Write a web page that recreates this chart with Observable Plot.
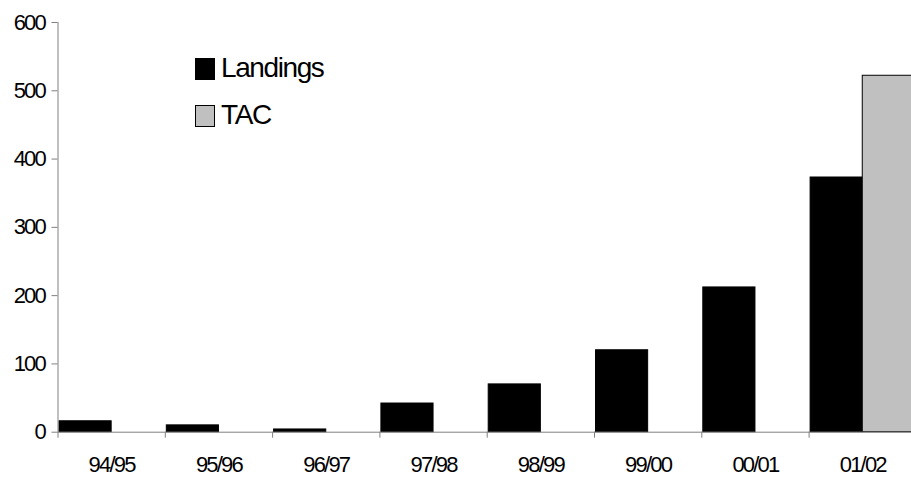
<!DOCTYPE html>
<html>
<head>
<meta charset="utf-8">
<script src="https://cdn.jsdelivr.net/npm/d3@7"></script>
<script src="https://cdn.jsdelivr.net/npm/@observablehq/plot@0.6"></script>
<style>
  html, body { margin: 0; padding: 0; background: #fff; overflow: hidden; }
  #wrap { position: relative; width: 911px; height: 479px; overflow: hidden; }
  #wrap svg text { font-family: "Liberation Sans", Arial, sans-serif; font-size: 22px; letter-spacing: -1.8px; }
  .lg-item { position: absolute; font-family: "Liberation Sans", Arial, sans-serif; font-size: 28px; line-height: 28px; letter-spacing: -1.4px; color: #000; white-space: nowrap; }
  .lg-sw { position: absolute; box-sizing: border-box; }
</style>
</head>
<body>
<div id="wrap"></div>
<script>
// ---- data ----
const seasons = ["94/95", "95/96", "96/97", "97/98", "98/99", "99/00", "00/01", "01/02"];
const landings = [16, 10, 4, 42, 70, 120, 212, 373];
const tac = [null, null, null, null, null, null, null, 522];
const seriesNames = ["Landings", "TAC"];
const seriesColors = ["#000000", "#c0c0c0"];
const yTicks = [0, 100, 200, 300, 400, 500, 600];

// ---- table built from the arrays ----
const rows = [];
seasons.forEach((s, i) => {
  rows.push({ season: s, i, series: "Landings", slot: 0, value: landings[i] });
  if (tac[i] != null) rows.push({ season: s, i, series: "TAC", slot: 1, value: tac[i] });
});

const edge = 0.014; // small gap at category edges
const chart = Plot.plot({
  width: 911,
  height: 479,
  marginLeft: 57.5,
  marginRight: -4.9,
  marginTop: 22,
  marginBottom: 47.3,
  style: { fontFamily: "'Liberation Sans', Arial, sans-serif", fontSize: "22px", color: "#000", background: "#fff" },
  x: { type: "linear", domain: [0, seasons.length], label: null },
  y: { domain: [0, 600], label: null },
  color: { domain: seriesNames, range: seriesColors },
  marks: [
    Plot.rectY(rows, {
      x1: d => d.i + (d.slot === 0 ? edge : 0.5),
      x2: d => d.i + (d.slot === 0 ? 0.5 : 1 - edge),
      y1: 0,
      y2: "value",
      fill: "series",
      stroke: "#000",
      strokeWidth: 1
    }),
    Plot.ruleX([0], { stroke: "#808080", strokeWidth: 1 }),
    Plot.ruleY([0], { stroke: "#808080", strokeWidth: 1 }),
    Plot.axisY({ ticks: yTicks, tickSize: 6, tickPadding: 7, stroke: "#808080", label: null }),
    Plot.axisX({ ticks: d3.range(seasons.length), tickSize: 6, tickFormat: () => "", stroke: "#808080", label: null }),
    Plot.axisX({ ticks: seasons.map((s, i) => i + 0.5), tickSize: 0, tickPadding: 24,
                 tickFormat: v => seasons[Math.floor(v)], label: null })
  ]
});

const wrap = document.getElementById("wrap");
wrap.appendChild(chart);

// ---- legend (overlaid inside plot area) ----
const colorScale = chart.scale("color");
const legendPos = [
  { sw: [195, 58, 20, 22], text: [221, 54.4] },
  { sw: [195, 105, 20, 22], text: [221, 101.4] }
];
seriesNames.forEach((name, k) => {
  const p = legendPos[k];
  const sw = document.createElement("div");
  sw.className = "lg-sw";
  sw.style.left = p.sw[0] + "px";
  sw.style.top = p.sw[1] + "px";
  sw.style.width = p.sw[2] + "px";
  sw.style.height = p.sw[3] + "px";
  sw.style.background = colorScale.apply(name);
  sw.style.border = "1.5px solid #000";
  wrap.appendChild(sw);
  const t = document.createElement("div");
  t.className = "lg-item";
  t.style.left = p.text[0] + "px";
  t.style.top = p.text[1] + "px";
  t.textContent = name;
  wrap.appendChild(t);
});
</script>
</body>
</html>
